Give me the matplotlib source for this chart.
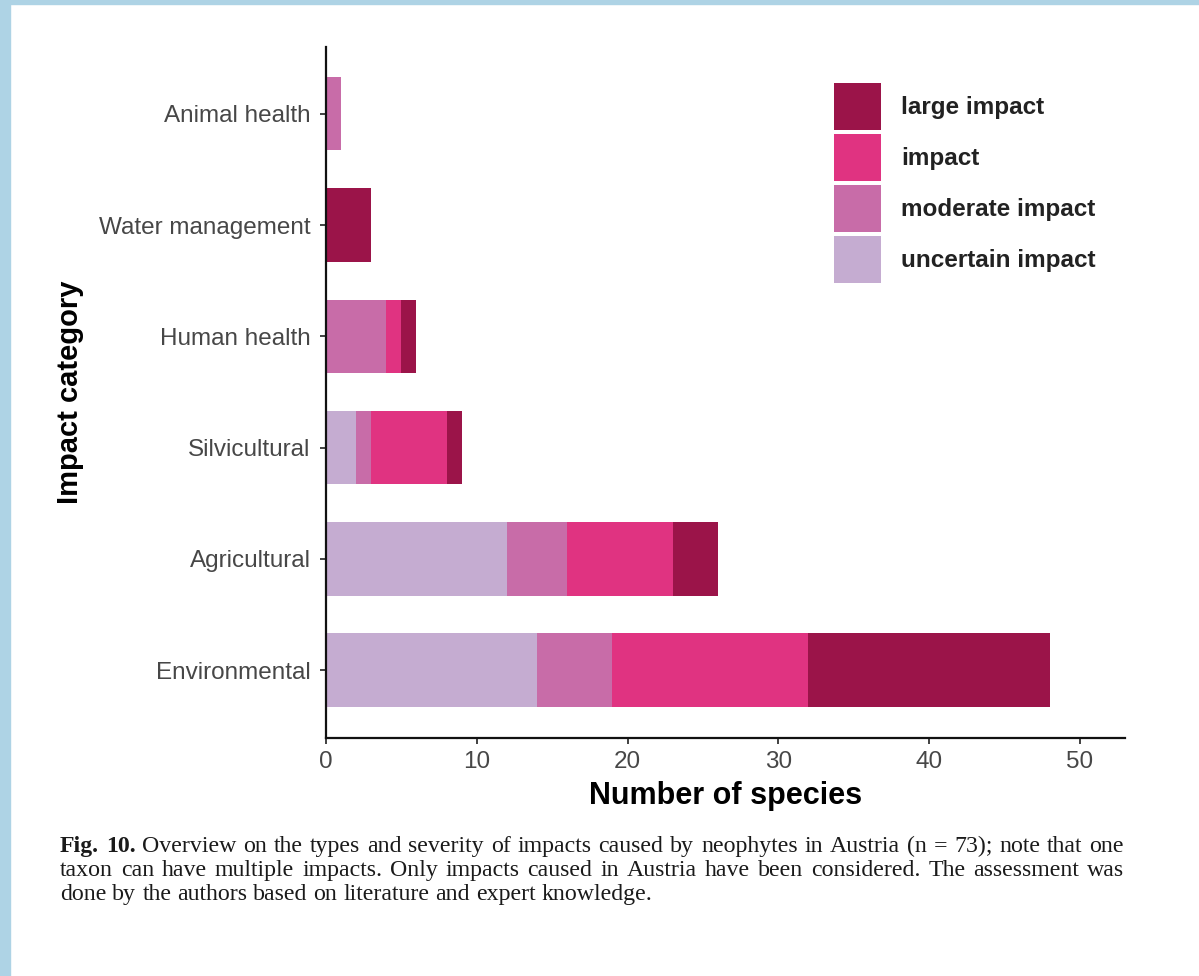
import matplotlib
matplotlib.use("Agg")
import matplotlib.pyplot as plt
import numpy as np
from matplotlib.patches import Patch, Rectangle

# data
categories = ["Animal health", "Water management", "Human health",
              "Silvicultural", "Agricultural", "Environmental"]
uncertain = [0, 0, 0, 2, 12, 14]
moderate = [1, 0, 4, 1, 4, 5]
impact = [0, 0, 1, 5, 7, 13]
large = [0, 3, 1, 1, 3, 16]

levels = ["uncertain impact", "moderate impact", "impact", "large impact"]
colors = ["#c5acd1", "#c86ca8", "#e03381", "#9b1449"]
x_ticks = [0, 10, 20, 30, 40, 50]

caption_lines = [
    "Fig. 10. Overview on the types and severity of impacts caused by neophytes in Austria (n = 73); note that one",
    "taxon can have multiple impacts. Only impacts caused in Austria have been considered. The assessment was",
    "done by the authors based on literature and expert knowledge.",
]

W, H = 1199, 976
fig = plt.figure(figsize=(W / 100, H / 100), dpi=100)
fig.patch.set_facecolor("white")

# light blue page border (left and top)
fig.patches.append(Rectangle((0, 0), 10 / W, 1, transform=fig.transFigure,
                             color="#aed3e5", zorder=0))
fig.patches.append(Rectangle((0, 1 - 4 / H), 1, 4 / H, transform=fig.transFigure,
                             color="#aed3e5", zorder=0))

ax = fig.add_axes([326 / W, 238 / H, 799 / W, 691 / H])

sans = "Liberation Sans"
y = np.arange(len(categories))[::-1]
series = [uncertain, moderate, impact, large]
left = np.zeros(len(categories))
for vals, col, lab in zip(series, colors, levels):
    ax.barh(y, vals, left=left, height=0.66, color=col, label=lab)
    left += np.array(vals)

ax.set_xlim(0, 53)
ax.set_ylim(-0.61, 5.6)
ax.set_yticks(y)
ax.set_yticklabels(categories, fontsize=17.5, family=sans, color="#474747")
ax.set_xticks(x_ticks)
ax.set_xticklabels([str(t) for t in x_ticks], fontsize=17.5, family=sans, color="#474747")
ax.tick_params(axis="both", length=4.5, width=1.3, color="#333333")
ax.tick_params(axis="y", pad=6.5)
ax.tick_params(axis="x", pad=4.5)

for s in ["top", "right"]:
    ax.spines[s].set_visible(False)
for s in ["left", "bottom"]:
    ax.spines[s].set_linewidth(1.6)
    ax.spines[s].set_color("#111111")

ax.set_xlabel("Number of species", fontsize=22, family=sans, fontweight="bold")
ax.set_ylabel("Impact category", fontsize=21, family=sans, fontweight="bold")
ax.xaxis.set_label_coords(0.5, -0.084)
ax.xaxis.label.set_va("center")
ax.yaxis.set_label_coords(-0.32, 0.5)
ax.yaxis.label.set_va("center")

handles = [Patch(facecolor=c, edgecolor="none") for c in colors][::-1]
leg = ax.legend(handles, levels[::-1], loc="upper left",
                bbox_to_anchor=(834 / W, 1 - 83 / H), bbox_transform=fig.transFigure,
                frameon=False, borderpad=0, borderaxespad=0,
                handlelength=1.95, handleheight=2.62, labelspacing=0.15,
                handletextpad=0.8,
                prop={"family": sans, "weight": "bold", "size": 17.5})
for t in leg.get_texts():
    t.set_color("#222222")

# justified caption, word by word
renderer = fig.canvas.get_renderer()
x0, x1 = 60, 1124
baselines = [852, 876, 900]
cap_size = 17.2
for i, (line, yb) in enumerate(zip(caption_lines, baselines)):
    words = line.split(" ")
    texts = []
    for j, w in enumerate(words):
        bold = i == 0 and j < 2
        texts.append(fig.text(0, 0, w, fontsize=cap_size, family="Liberation Serif",
                              fontweight="bold" if bold else "normal",
                              color="#1a1a1a", va="baseline", ha="left"))
    widths = [t.get_window_extent(renderer).width for t in texts]
    if i < len(caption_lines) - 1:
        gap = (x1 - x0 - sum(widths)) / (len(words) - 1)
    else:
        gap = cap_size * 0.25 * 100 / 72
    x = x0
    for t, w in zip(texts, widths):
        t.set_position((x / W, 1 - yb / H))
        x += w + gap

fig.savefig("out.png", dpi=100)
